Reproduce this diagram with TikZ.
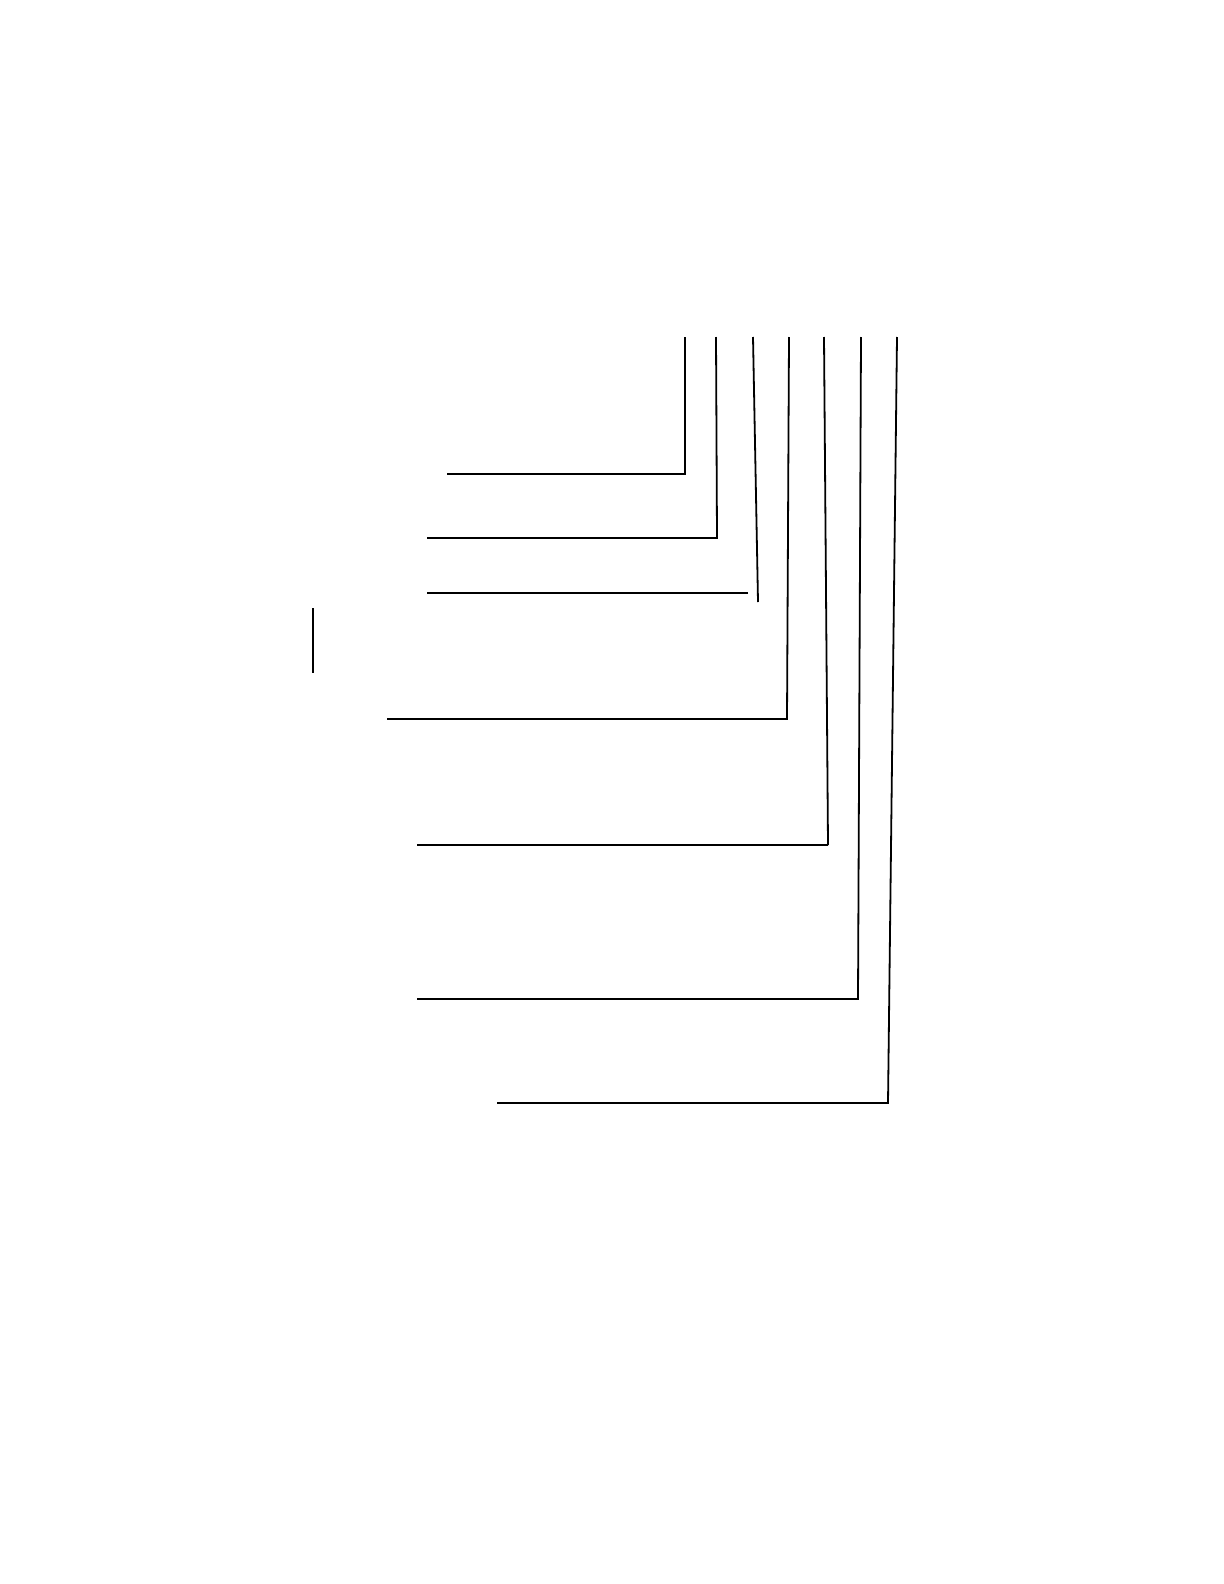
\documentclass[tikz,border=0pt]{standalone}
\usepackage{tikz}

\begin{document}
\begin{tikzpicture}[x=0.5pt,y=-0.5pt,
					leader/.style={draw, line width=0.9pt},
					thinleader/.style={draw, line width=0.6pt}]
    \useasboundingbox (0,0) rectangle (1224,1584);
    % Place points
    \coordinate (t1) at (685,337);
    \coordinate (c1) at (685,474);
    \coordinate (e1) at (447,474);
    \coordinate (t2) at (716,337);
    \coordinate (c2) at (717,538);
    \coordinate (e2) at (427,538);
    \coordinate (t3) at (753,337);
    \coordinate (b3) at (758,602);
    \coordinate (s3) at (748,593);
    \coordinate (e3) at (427,593);
    \coordinate (t4) at (789,337);
    \coordinate (c4) at (787,719);
    \coordinate (e4) at (387,719);
    \coordinate (t5) at (824,337);
    \coordinate (c5) at (828,845);
    \coordinate (e5) at (417,845);
    \coordinate (t6) at (861,337);
    \coordinate (c6) at (858,999);
    \coordinate (e6) at (417,999);
    \coordinate (t7) at (897,337);
    \coordinate (c7) at (888,1103);
    \coordinate (e7) at (497,1103);
    \coordinate (v1) at (313,608);
    \coordinate (v2) at (313,673);
    % Draw leaders
    \draw[leader] (t1) -- (c1) -- (e1);
    \draw[leader] (t2) -- (c2) -- (e2);
    \draw[leader] (t3) -- (b3);
    \draw[thinleader] (s3) -- (e3);
    \draw[leader] (t4) -- (c4) -- (e4);
    \draw[leader] (t5) -- (c5);
    \draw[thinleader] (c5) -- (e5);
    \draw[leader] (t6) -- (c6) -- (e6);
    \draw[leader] (t7) -- (c7) -- (e7);
    \draw[thinleader] (v1) -- (v2);
\end{tikzpicture}
\end{document}
